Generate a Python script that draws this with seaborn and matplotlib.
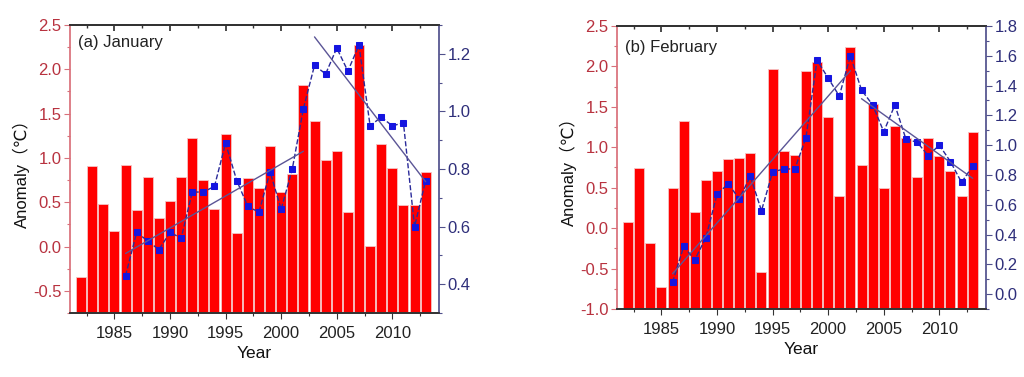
import numpy as np
import pandas as pd
import matplotlib
matplotlib.use('Agg')
import matplotlib.pyplot as plt
from matplotlib.ticker import MultipleLocator, FormatStrFormatter
import seaborn as sns

# --- data ---
years = list(range(1982, 2014))
jan_anomaly = [-0.34, 0.91, 0.48, 0.18, 0.92, 0.41, 0.78, 0.32, 0.51, 0.79,
               1.22, 0.75, 0.42, 1.27, 0.15, 0.77, 0.66, 1.13, 0.61, 0.82,
               1.82, 1.42, 0.98, 1.08, 0.39, 2.27, 0.01, 1.16, 0.89, 0.47,
               0.47, 0.84]
feb_anomaly = [0.07, 0.74, -0.18, -0.73, 0.50, 1.33, 0.20, 0.60, 0.71, 0.86,
               0.87, 0.93, -0.54, 1.97, 0.96, 0.90, 1.94, 2.05, 1.37, 0.40,
               2.24, 0.78, 1.53, 0.50, 1.26, 1.12, 0.63, 1.11, 0.89, 0.71,
               0.40, 1.19]

index_years = list(range(1986, 2014))
jan_index = [0.43, 0.58, 0.55, 0.52, 0.58, 0.56, 0.72, 0.72, 0.74, 0.89,
             0.76, 0.67, 0.65, 0.79, 0.66, 0.80, 1.01, 1.16, 1.13, 1.22,
             1.14, 1.23, 0.95, 0.98, 0.95, 0.96, 0.60, 0.76]
feb_index = [0.08, 0.32, 0.23, 0.38, 0.67, 0.74, 0.64, 0.79, 0.56, 0.82,
             0.84, 0.84, 1.05, 1.57, 1.45, 1.33, 1.60, 1.37, 1.27, 1.09,
             1.27, 1.04, 1.02, 0.93, 1.00, 0.89, 0.75, 0.86]
split_year = 2002  # trend fitted separately up to / after this year

titles = ['(a) January', '(b) February']

sns.set_theme(style='ticks')
plt.rcParams['font.family'] = ['Liberation Sans', 'DejaVu Sans', 'Noto Sans CJK SC']
plt.rcParams['axes.unicode_minus'] = False

RED_TXT = '#b8323f'
RED_SPINE = '#d9707a'
NAVY = '#2e2e7a'
NAVY_SPINE = '#50508c'
PT_COLOR = '#1515e0'
LINE_COLOR = '#2a2a9a'
TREND_COLOR = '#5b5596'


def draw_panel(fig, rect, anomaly, index, title, left_lim, right_lim, title_y):
    ax = fig.add_axes(rect)
    base = left_lim[0]
    df = pd.DataFrame({'year': years, 'height': np.array(anomaly) - base})
    # Origin-style bars: drawn up from the axis floor
    sns.barplot(data=df, x='year', y='height', native_scale=True, width=0.9,
                color='#ff0000', saturation=1, edgecolor='#f5c4c4', linewidth=0.6,
                errorbar=None, bottom=base, ax=ax)

    ax2 = ax.twinx()
    sns.lineplot(x=index_years, y=index, ax=ax2, color=LINE_COLOR, linestyle='--',
                 linewidth=1.0, marker='s', markersize=4.5, markerfacecolor=PT_COLOR,
                 markeredgecolor=PT_COLOR, errorbar=None)
    yrs = np.array(index_years)
    idx = np.array(index)
    for mask in [yrs <= split_year, yrs > split_year]:
        sns.regplot(x=yrs[mask], y=idx[mask], ax=ax2, scatter=False, ci=None,
                    truncate=True, line_kws=dict(color=TREND_COLOR, lw=1.0))

    ax.set_xlim(1981, 2014.2)
    ax.set_ylim(*left_lim)
    ax2.set_ylim(*right_lim)

    ax.xaxis.set_major_locator(MultipleLocator(5))
    ax.xaxis.set_minor_locator(MultipleLocator(2.5))
    ax.yaxis.set_major_locator(MultipleLocator(0.5))
    ax.yaxis.set_minor_locator(MultipleLocator(0.25))
    ax.yaxis.set_major_formatter(FormatStrFormatter('%.1f'))
    ax2.yaxis.set_major_locator(MultipleLocator(0.2))
    ax2.yaxis.set_minor_locator(MultipleLocator(0.1))
    ax2.yaxis.set_major_formatter(FormatStrFormatter('%.1f'))

    ax.tick_params(axis='x', which='major', length=4, width=0.8, colors='#333333',
                   labelsize=12, labelcolor='#222222', pad=5)
    ax.tick_params(axis='x', which='minor', length=2.5, width=0.8, colors='#333333')
    ax.tick_params(axis='y', which='major', length=4, width=0.8, colors=RED_SPINE,
                   labelsize=12, labelcolor=RED_TXT, pad=2)
    ax.tick_params(axis='y', which='minor', length=2.5, width=0.8, colors=RED_SPINE)
    ax2.tick_params(axis='y', which='major', length=4, width=0.8, colors=NAVY_SPINE,
                    labelsize=12, labelcolor=NAVY, pad=2)
    ax2.tick_params(axis='y', which='minor', length=2.5, width=0.8, colors=NAVY_SPINE)

    top = ax.secondary_xaxis('top')
    top.xaxis.set_major_locator(MultipleLocator(5))
    top.xaxis.set_minor_locator(MultipleLocator(2.5))
    top.tick_params(which='both', direction='in', labeltop=False, colors='#333333')
    top.tick_params(which='major', length=4)
    top.tick_params(which='minor', length=2.5)

    ax.spines['left'].set_color(RED_SPINE)
    ax.spines['right'].set_visible(False)
    ax2.spines['left'].set_visible(False)
    ax2.spines['right'].set_color(NAVY_SPINE)
    for a in (ax, ax2):
        a.spines['top'].set_color('#333333')
        a.spines['bottom'].set_color('#333333')
    top.spines['top'].set_color('#333333')

    ax.set_xlabel('Year', fontsize=12.5, color='#111111', labelpad=4)
    ax.set_ylabel('Anomaly（℃）', fontsize=12, color='#111111', labelpad=2)
    ax2.set_xlabel('')
    ax2.set_ylabel('')
    ax.text(0.022, title_y, title, transform=ax.transAxes, fontsize=12,
            color='#222222', va='center', ha='left')
    return ax, ax2


fig = plt.figure(figsize=(10.24, 3.77), dpi=100)
fig.patch.set_facecolor('white')
draw_panel(fig, [70 / 1024, 64 / 377, 369 / 1024, 288 / 377], jan_anomaly, jan_index,
           titles[0], (-0.75, 2.5), (0.3, 1.3), 0.94)
draw_panel(fig, [617 / 1024, 68 / 377, 369 / 1024, 283 / 377], feb_anomaly, feb_index,
           titles[1], (-1.0, 2.5), (-0.1, 1.8), 0.925)
fig.savefig('out.png', dpi=100, facecolor='white')
